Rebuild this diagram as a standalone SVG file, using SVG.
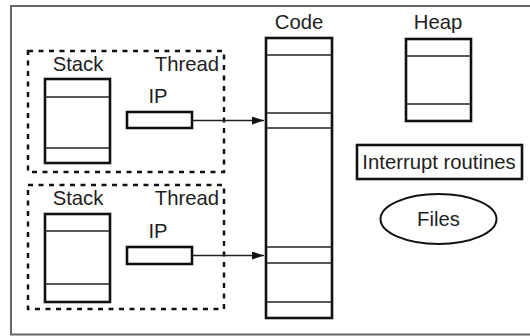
<svg xmlns="http://www.w3.org/2000/svg" width="530" height="336" viewBox="0 0 530 336">
<defs>
<style>
text{font-family:"Liberation Sans",Arial,sans-serif;font-size:20.3px;fill:#1e1e1e;text-anchor:middle}
.box{fill:#fff;stroke:#111;stroke-width:2.6}
.ln{stroke:#222;stroke-width:1.5}
.dash{fill:none;stroke:#111;stroke-width:2.5;stroke-dasharray:5 5.5}
.conn{stroke:#222;stroke-width:1.5;fill:none}
</style>
<marker id="ah" viewBox="0 0 12 8" refX="12" refY="4" markerWidth="12" markerHeight="8" markerUnits="userSpaceOnUse" orient="auto">
<path d="M0,0 L12,4 L0,8 Z" fill="#111"/>
</marker>
</defs>
<rect x="11" y="6" width="540" height="328.5" fill="#fff" stroke="#666" stroke-width="2"/>

<g id="thread1">
<rect class="dash" x="28" y="51" width="196" height="121"/>
<text x="78" y="71">Stack</text>
<text x="187" y="71">Thread</text>
<g id="stack1">
<rect class="box" x="45" y="79" width="65" height="84"/>
<line class="ln" x1="45" y1="97" x2="110" y2="97"/>
<line class="ln" x1="45" y1="148" x2="110" y2="148"/>
</g>
<g id="ip1">
<text x="158" y="103">IP</text>
<rect class="box" x="127" y="112" width="65" height="16"/>
</g>
</g>

<g id="thread2">
<rect class="dash" x="28" y="185" width="196" height="124"/>
<text x="78" y="205">Stack</text>
<text x="187" y="205">Thread</text>
<g id="stack2">
<rect class="box" x="45" y="214" width="65" height="88"/>
<line class="ln" x1="45" y1="231" x2="110" y2="231"/>
<line class="ln" x1="45" y1="284" x2="110" y2="284"/>
</g>
<g id="ip2">
<text x="158" y="238">IP</text>
<rect class="box" x="127" y="247" width="65" height="17"/>
</g>
</g>

<g id="code">
<text x="299" y="29">Code</text>
<rect class="box" x="266" y="38" width="66" height="280"/>
<line class="ln" x1="266" y1="55" x2="332" y2="55"/>
<line class="ln" x1="266" y1="113" x2="332" y2="113"/>
<line class="ln" x1="266" y1="128" x2="332" y2="128"/>
<line class="ln" x1="266" y1="247" x2="332" y2="247"/>
<line class="ln" x1="266" y1="263" x2="332" y2="263"/>
<line class="ln" x1="266" y1="302" x2="332" y2="302"/>
</g>

<g id="heap">
<text x="438" y="29">Heap</text>
<rect class="box" x="406" y="39" width="65" height="82"/>
<line class="ln" x1="406" y1="56" x2="471" y2="56"/>
<line class="ln" x1="406" y1="104" x2="471" y2="104"/>
</g>

<g id="interrupt">
<rect class="box" x="357" y="145" width="165" height="34"/>
<text x="439" y="168.5">Interrupt routines</text>
</g>

<g id="files">
<ellipse cx="438.5" cy="219" rx="58" ry="25" fill="#fff" stroke="#111" stroke-width="2"/>
<text x="438.5" y="226">Files</text>
</g>

<g id="connectors">
<line class="conn" x1="193" y1="120.5" x2="264" y2="120.5" marker-end="url(#ah)"/>
<line class="conn" x1="193" y1="255.5" x2="264" y2="255.5" marker-end="url(#ah)"/>
</g>
</svg>
